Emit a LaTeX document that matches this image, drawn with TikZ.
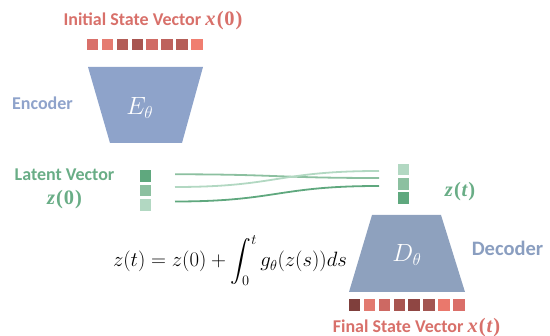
\documentclass[tikz,border=0pt]{standalone}
\usepackage[no-math]{fontspec}
\usepackage{amsmath}
\newfontfamily\lab{Carlito}
\newfontfamily\mser{Liberation Serif}
\newcommand{\bvar}[2]{{\mser\bfseries\fontsize{20.5}{22}\selectfont{\itshape #1}\kern1.2pt(\kern0.8pt{\if#2t\itshape\fi #2}\kern1pt)}}
\definecolor{salmon}{HTML}{D8706A}
\definecolor{gtext}{HTML}{69AD86}
\definecolor{btext}{HTML}{8FA3CB}
\definecolor{dtext}{HTML}{8A9EC0}
\definecolor{encb}{HTML}{8EA3CA}
\definecolor{decb}{HTML}{8EA1BE}
\definecolor{gdark}{HTML}{5FA87E}
\definecolor{gmid}{HTML}{8CC0A0}
\definecolor{glight}{HTML}{B2D8C2}
\definecolor{r1}{HTML}{D9706A}
\definecolor{r2}{HTML}{E57B70}
\definecolor{r3}{HTML}{B35D57}
\definecolor{r4}{HTML}{A85550}
\definecolor{r5}{HTML}{D06B65}
\definecolor{r6}{HTML}{BE625D}
\definecolor{r7}{HTML}{B55E58}
\definecolor{r8}{HTML}{F07E70}
\definecolor{s1}{HTML}{7F3F3C}
\definecolor{s2}{HTML}{E27A70}
\definecolor{s3}{HTML}{CD6963}
\definecolor{s4}{HTML}{A85550}
\definecolor{s5}{HTML}{8F4643}
\definecolor{s6}{HTML}{A35652}
\definecolor{s7}{HTML}{EA786C}
\definecolor{s8}{HTML}{DA6F69}
\begin{document}
\begin{tikzpicture}[x=1pt,y=-1pt,
  cell/.style={minimum width=11.5pt,minimum height=11.5pt,inner sep=0pt,outer sep=0pt,draw=none},
  lbl/.style={font=\lab\bfseries\fontsize{18}{20}\selectfont,inner sep=0pt,anchor=base},
  sym/.style={text=white,font=\fontsize{24}{26}\selectfont,inner sep=0pt,anchor=base},
  wire/.style={line width=1.8pt}]
\useasboundingbox (0,0) rectangle (550,336);
% title
\node[lbl,text=salmon] (t1) at (153,26) {Initial State Vector \bvar{x}{0}};
% top vector
\foreach \c [count=\i from 0] in {r1,r2,r3,r4,r5,r6,r7,r8}
  \node[cell,fill=\c] (x0\i) at ({92.6+14.9*\i},44.5) {};
% encoder
\fill[encb] (88,67) -- (203,67) -- (182,143) -- (110,143) -- cycle;
\node[sym] (enc) at (139.7,114.3) {$E_\theta$};
\node[lbl,text=btext] (encl) at (42.5,109.5) {Encoder};
% latent
\node[lbl,text=gtext] (lv) at (64.5,180.7) {Latent Vector};
\node[lbl,text=gtext] (zzero) at (64.5,205) {\bvar{z}{0}};
\node[cell,fill=gdark] (za) at (145.5,176.2) {};
\node[cell,fill=gmid] (zb) at (145.5,190.5) {};
\node[cell,fill=glight] (zc) at (145.5,204.8) {};
\node[cell,fill=glight] (zd) at (403.5,169.3) {};
\node[cell,fill=gmid] (ze) at (403.5,183.8) {};
\node[cell,fill=gdark] (zf) at (403.5,197.8) {};
\node[lbl,text=gtext] (zt) at (460,196.7) {\bvar{z}{t}};
% wires
\coordinate (a1) at (175,174.3);
\coordinate (a2) at (175,187);
\coordinate (a3) at (175,201.5);
\coordinate (b1) at (379,171);
\coordinate (b2) at (379,178);
\coordinate (b3) at (379,186);
\draw[wire,gmid] (a1) .. controls (277,174.3) and (277,178) .. (b2);
\draw[wire,glight] (a2) .. controls (277,187) and (277,171) .. (b1);
\draw[wire,gdark] (a3) .. controls (277,201.5) and (277,186) .. (b3);
% decoder
\fill[decb] (372,215) -- (441,215) -- (465,292) -- (349,292) -- cycle;
\node[sym] (dec) at (407,261.5) {$D_\theta$};
\node[lbl,text=dtext,font=\lab\bfseries\fontsize{20.5}{22}\selectfont] (decl) at (507.5,256) {Decoder};
% bottom vector
\foreach \c [count=\i from 0] in {s1,s2,s3,s4,s5,s6,s7,s8}
  \node[cell,fill=\c] (xt\i) at ({354.6+14.9*\i},304.8) {};
\node[lbl,text=salmon] (t2) at (416.5,333) {Final State Vector \bvar{x}{t}};
% equation
\node[inner sep=0pt,anchor=base,font=\fontsize{19.5}{22}\selectfont] (eq) at (230,267) {$\displaystyle z(t)=z(0)+\int_0^t g_\theta(z(s))ds$};
\end{tikzpicture}
\end{document}
